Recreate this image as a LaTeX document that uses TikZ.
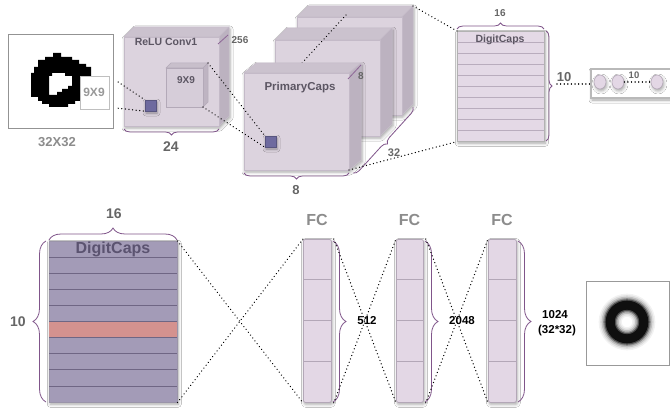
\documentclass[tikz,border=0pt]{standalone}
\usepackage{fontspec}
\setmainfont{Liberation Sans}
\usetikzlibrary{decorations.pathreplacing,calc,shadows.blur,shapes.geometric}
\definecolor{cfront}{HTML}{DCD3DE}
\definecolor{ctop}{HTML}{CBC2CE}
\definecolor{cside}{HTML}{BCB2C0}
\definecolor{cedge}{HTML}{C4BAC8}
\definecolor{ifront}{HTML}{D6CDD9}
\definecolor{itop}{HTML}{C8BFCB}
\definecolor{iside}{HTML}{BEB4C2}
\definecolor{iedge}{HTML}{B3A9B8}
\definecolor{gtext}{HTML}{666666}
\definecolor{ctext}{HTML}{5C5663}
\definecolor{brc}{HTML}{80558A}
\definecolor{dcfill}{HTML}{E4D9E6}
\definecolor{dcline}{HTML}{B9ACBD}
\definecolor{bigfill}{HTML}{A39BB7}
\definecolor{bigline}{HTML}{6F6684}
\definecolor{bigtext}{HTML}{5B5370}
\definecolor{redrow}{HTML}{D4928F}
\definecolor{sqc}{HTML}{6E6A9F}
\definecolor{fcfill}{HTML}{E3D7E5}
\definecolor{fcline}{HTML}{B3A7B7}
\newcommand\mkcube[8]{%
 \coordinate (#1-a) at (#2,#3);
 \coordinate (#1-b) at (#4,#3);
 \coordinate (#1-c) at (#4,#5);
 \coordinate (#1-d) at (#2,#5);
 \coordinate (#1-e) at ($(#1-a)+(#6,#7)$);
 \coordinate (#1-f) at ($(#1-b)+(#6,#7)$);
 \coordinate (#1-g) at ($(#1-c)+(#6,#7)$);
 \path[#8 shade] (#1-a) -- (#1-e) -- (#1-f) -- (#1-g) -- (#1-c) -- (#1-d) -- cycle;
 \filldraw[#8 top] (#1-a) -- (#1-e) -- (#1-f) -- (#1-b) -- cycle;
 \filldraw[#8 side] (#1-b) -- (#1-f) -- (#1-g) -- (#1-c) -- cycle;
 \filldraw[#8 front] (#1-a) rectangle (#1-c);
}
\begin{document}
\begin{tikzpicture}[x=1pt,y=-1pt,
  softshadow/.style={blur shadow={shadow xshift=1pt,shadow yshift=-2pt,shadow blur radius=3pt,shadow opacity=35}},
  cube shade/.style={fill=white,softshadow},
  cube top/.style={fill=ctop,draw=cedge,line width=0.5pt},
  cube side/.style={fill=cside,draw=cedge,line width=0.5pt},
  cube front/.style={fill=cfront,draw=cedge,line width=0.5pt},
  inner shade/.style={fill=white},
  inner top/.style={fill=itop,draw=iedge,line width=0.5pt},
  inner side/.style={fill=iside,draw=iedge,line width=0.5pt},
  inner front/.style={fill=ifront,draw=iedge,line width=0.5pt},
  dotline/.style={line width=1.4pt,dash pattern=on 0.01pt off 3.6pt,line cap=round},
  brc/.style={draw=brc,line width=0.8pt,decorate,decoration={brace,amplitude=#1}},
  brc/.default=6pt,
  lbl/.style={inner sep=0pt,text=gtext,font=\bfseries},
  sqbox/.style={fill=sqc,draw=sqc!80!black,line width=0.4pt,minimum size=11pt,inner sep=0pt,softshadow},
  fccol/.style={fill=fcfill,draw=fcline,line width=0.8pt,rounded corners=2pt,minimum width=28pt,minimum height=163pt,inner sep=0pt,softshadow,anchor=north west},
  capc/.style={fill=fcfill,draw=fcline,line width=0.6pt,minimum width=12pt,minimum height=14pt,inner sep=0pt,ellipse,softshadow}
]
\useasboundingbox (0,0) rectangle (670,409);
\fill[white] (0,0) rectangle (670,409);

% ---------- input image ----------
\node[draw=gray!85,line width=0.9pt,minimum width=105pt,minimum height=94pt,inner sep=0pt,anchor=north west] (img) at (8,34) {};
\fill[black,even odd rule]
 (53,53) -- (61,53) -- (61,57) -- (72,57) -- (72,60) -- (79,60) -- (79,64) -- (86,64) -- (86,67) -- (91,67) -- (91,88) -- (86,88) -- (86,95) -- (82,95) -- (82,101) -- (75,101) -- (75,104) -- (68,104) -- (68,107) -- (49,107) -- (49,104) -- (42,104) -- (42,101) -- (38,101) -- (38,97) -- (31,97) -- (31,73) -- (34,73) -- (34,67) -- (38,67) -- (38,60) -- (45,60) -- (45,57) -- (53,57) -- cycle
 (52,73) -- (65,73) -- (65,76) -- (72,76) -- (72,86) -- (68,86) -- (68,89) -- (62,89) -- (62,92) -- (57,92) -- (57,95) -- (49,95) -- (49,76) -- (52,76) -- cycle;
\node[draw=gray!50,line width=1.2pt,fill=white,minimum width=29pt,minimum height=33pt,inner sep=0pt,anchor=north west] (k9) at (80,76) {};
\node[lbl,text=gray!80,font=\bfseries\fontsize{12}{12}\selectfont] (k9t) at (94,92) {9X9};
\node[lbl,text=gray!90,font=\bfseries\fontsize{13}{13}\selectfont] (imgt) at (57,142) {32X32};

% ---------- ReLU Conv1 ----------
\mkcube{conv}{124}{37}{219}{126}{10}{-10}{cube}
\node[lbl,text=ctext,font=\bfseries\fontsize{10.5}{10.5}\selectfont] (convt) at (166,42) {ReLU Conv1};
\draw[brc!90,line width=0.8pt] (218,44) -- (228,35);
\node[lbl,font=\bfseries\fontsize{10}{10}\selectfont] (c256) at (240,40) {256};
\mkcube{ic}{166}{68}{203}{107}{5}{-5}{inner}
\node[lbl,text=ctext,font=\bfseries\fontsize{10}{10}\selectfont] (ict) at (186,80) {9X9};
\node[sqbox] (bs) at (150.5,105.5) {};
\draw[brc] (219,129) -- (124,129);
\node[lbl,font=\bfseries\fontsize{14}{14}\selectfont] (c24) at (171,147) {24};
\draw[dotline] ([shift={(8,6)}]k9.north east) -- (bs.north west);
\draw[dotline] ([shift={(8,-2)}]k9.south east) -- (bs.south west);

% ---------- PrimaryCaps ----------
\mkcube{pc3}{297}{17}{402}{115}{11}{-11}{cube}
\mkcube{pc2}{275}{40}{380}{136}{12}{-12}{cube}
\coordinate (pcl) at (346,15);
\coordinate (pcm) at (302,63);
\draw[dotline] (pcl) -- (pcm);
\mkcube{pc1}{244}{73}{349}{170}{12}{-10}{cube}
\node[lbl,text=ctext,font=\bfseries\fontsize{11.5}{11.5}\selectfont] (pct) at (300,88) {PrimaryCaps};
\node[sqbox] (ps) at (270.5,141.5) {};
\draw[dotline] (ic-f) -- (ps.north west);
\draw[dotline] (ic-c) -- (ps.south west);
\draw[brc!90,line width=0.8pt] (348,79) -- (361,65);
\node[lbl,font=\bfseries\fontsize{10}{10}\selectfont] (p8a) at (361,76) {8};
\draw[brc] (349,173) -- (244,173);
\node[lbl,font=\bfseries\fontsize{13}{13}\selectfont] (p8b) at (296,190) {8};
\draw[brc] (413,107) -- (353,173);
\node[lbl,font=\bfseries\fontsize{11}{11}\selectfont] (p32) at (394,153) {32};

% ---------- DigitCaps (top) ----------
\node[fill=dcfill,draw=gray!60,line width=0.6pt,minimum width=87pt,minimum height=110pt,inner sep=0pt,anchor=north west,softshadow] (dct) at (457,31) {};
\foreach \i in {1,...,9} \draw[dcline,line width=0.6pt] (457.5,{31+11*\i}) -- (543.5,{31+11*\i});
\node[lbl,text=ctext,font=\bfseries\fontsize{10.5}{10.5}\selectfont] (dctt) at (500,40) {DigitCaps};
\draw[dotline] (pc3-f) -- (dct.north west);
\draw[dotline] (pc1-c) -- (dct.south west);
\draw[brc] (457,29) -- (544,29);
\node[lbl,font=\bfseries\fontsize{10}{10}\selectfont] (d16) at (500,13) {16};
\draw[brc] (546,31) -- (546,141);
\node[lbl,font=\bfseries\fontsize{13}{13}\selectfont] (d10) at (564,77) {10};
\coordinate (t10) at (557,84);
\coordinate (cbw) at (591,84);
\draw[dotline] (t10) -- (cbw);
\fill[white,softshadow] (591,69) rectangle (672,98);
\draw[gray!55,line width=1.2pt] (672,69) -- (591,69) -- (591,98) -- (672,98);
\node[capc] (c1) at (600,82) {};
\node[capc] (c2) at (618,82) {};
\node[capc] (c3) at (657,82) {};
\draw[dotline] (c2.east) -- (c3.west);
\node[lbl,font=\bfseries\fontsize{9.5}{9.5}\selectfont] (c10) at (634,75) {10};

% ---------- DigitCaps (bottom) ----------
\node[fill=bigfill,draw=bigline!70,line width=0.5pt,minimum width=128pt,minimum height=161pt,inner sep=0pt,anchor=north west,softshadow] (dcb) at (49,241) {};
\fill[redrow] (49,321.5) rectangle (177,337.6);
\foreach \i in {1,...,9} \draw[bigline,line width=0.7pt] (49,{241+16.1*\i}) -- (177,{241+16.1*\i});
\node[lbl,text=bigtext,font=\bfseries\fontsize{16}{16}\selectfont] (dcbt) at (113,249) {DigitCaps};
\draw[brc=12pt] (49,240) -- (177,240);
\node[lbl,font=\bfseries\fontsize{14}{14}\selectfont] (b16) at (114,214) {16};
\draw[brc=13pt] (46,402) -- (46,241);
\node[lbl,font=\bfseries\fontsize{14}{14}\selectfont] (b10) at (18,322) {10};

% ---------- FC layers ----------
\node[fccol] (fc1) at (303,239) {};
\node[fccol,minimum width=27pt] (fc2) at (396,239) {};
\node[fccol] (fc3) at (488,239) {};
\foreach \f in {fc1,fc2,fc3}{
  \foreach \k in {1,2,3} \draw[fcline,line width=1pt] ($(\f.north west)!\k/4!(\f.south west)$) -- ($(\f.north east)!\k/4!(\f.south east)$);
}
\node[lbl,text=gray!90,font=\bfseries\fontsize{16}{16}\selectfont] (fct1) at (317,220) {FC};
\node[lbl,text=gray!90,font=\bfseries\fontsize{16}{16}\selectfont] (fct2) at (409.5,220) {FC};
\node[lbl,text=gray!90,font=\bfseries\fontsize{16}{16}\selectfont] (fct3) at (502,220) {FC};
\draw[brc=13pt] (333,241) -- (333,402);
\draw[brc=13pt] (425,241) -- (425,402);
\draw[brc=13pt] (518,241) -- (518,402);
\node[lbl,text=black,font=\bfseries\fontsize{11.5}{11.5}\selectfont] (n512) at (367,321) {512};
\node[lbl,text=black,font=\bfseries\fontsize{11.5}{11.5}\selectfont] (n2048) at (462,321) {2048};
\node[lbl,text=black,font=\bfseries\fontsize{11.5}{11.5}\selectfont] (n1024) at (555,315) {1024};
\node[lbl,text=black,font=\bfseries\fontsize{11.5}{11.5}\selectfont] (n3232) at (557,331) {(32*32)};

\draw[dotline] (dcb.north east) -- (fc1.south west);
\draw[dotline] (dcb.south east) -- (fc1.north west);
\draw[dotline] ([xshift=2pt]fc1.north east) -- (fc2.south west);
\draw[dotline] ([xshift=2pt]fc1.south east) -- (fc2.north west);
\draw[dotline] ([xshift=2pt]fc2.north east) -- (fc3.south west);
\draw[dotline] ([xshift=2pt]fc2.south east) -- (fc3.north west);

% ---------- output image ----------
\node[draw=gray!80,line width=0.9pt,fill=white,minimum width=83pt,minimum height=84pt,inner sep=0pt,anchor=north west] (out) at (586,281) {};
\begin{scope}
\clip (out.south west) rectangle (out.north east);
\foreach \w/\o in {23/0.05,20/0.08,17/0.14,14/0.25,11.5/0.45,9/0.8}
  \draw[black,line width=\w pt,opacity=\o] (627,322) circle (16.8);
\end{scope}
\end{tikzpicture}
\end{document}
